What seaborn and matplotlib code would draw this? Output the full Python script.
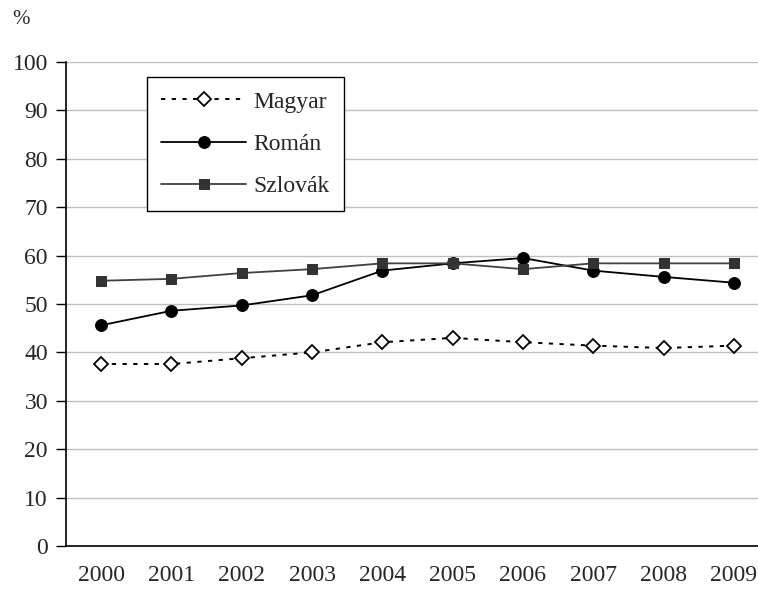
import numpy as np
import pandas as pd
import matplotlib
matplotlib.use("Agg")
import matplotlib.pyplot as plt
import seaborn as sns

years = ["2000", "2001", "2002", "2003", "2004", "2005", "2006", "2007", "2008", "2009"]
magyar = [37.6, 37.6, 38.8, 40.0, 42.1, 43.0, 42.1, 41.4, 40.9, 41.4]
roman = [45.6, 48.6, 49.7, 51.8, 56.9, 58.4, 59.5, 56.9, 55.6, 54.4]
szlovak = [54.8, 55.2, 56.4, 57.2, 58.4, 58.4, 57.2, 58.4, 58.4, 58.4]

sns.set_style("white")
plt.rcParams['font.family'] = ['Liberation Serif', 'DejaVu Serif']

pos = np.arange(len(years))
df = pd.DataFrame({'pos': pos, 'Magyar': magyar, 'Román': roman, 'Szlovák': szlovak})

fig = plt.figure(figsize=(7.58, 5.91), dpi=100)
ax = fig.add_axes([66 / 758, 45 / 591, 703 / 758, 484 / 591])

for y in range(10, 101, 10):
    ax.axhline(y, color='#c0c0c0', lw=1, zorder=0)

sns.lineplot(data=df, x='pos', y='Magyar', ax=ax, color='black', lw=1.4,
             linestyle=(0, (2.2, 3.3)), marker='D', markersize=7.5,
             markerfacecolor='white', markeredgecolor='black', markeredgewidth=1.3,
             label='Magyar')
sns.lineplot(data=df, x='pos', y='Román', ax=ax, color='black', lw=1.3,
             marker='o', markersize=8.5, markerfacecolor='black',
             markeredgecolor='black', label='Román')
sns.lineplot(data=df, x='pos', y='Szlovák', ax=ax, color='#404040', lw=1.3,
             marker='s', markersize=7.5, markerfacecolor='#333333',
             markeredgecolor='#333333', label='Szlovák')

ax.set_xlim(-0.5, len(years) - 0.5)
ax.set_ylim(0, 100)
ax.set_xticks(pos)
ax.set_xticklabels(years, fontsize=17)
ax.set_xticks(np.arange(-0.5, len(years), 1), minor=True)
ax.tick_params(axis='x', which='major', length=0, pad=14)
ax.tick_params(axis='x', which='minor', length=7, width=1, color='black', direction='out')
ax.set_yticks(range(0, 101, 10))
ax.tick_params(axis='y', length=7, width=1, color='black', direction='out', labelsize=17, pad=6)
ax.tick_params(axis='both', bottom=True, left=True)
ax.set_xlabel('')
ax.set_ylabel('')

for s in ['top', 'right']:
    ax.spines[s].set_visible(False)
for s in ['left', 'bottom']:
    ax.spines[s].set_color('black')
    ax.spines[s].set_linewidth(1.2)

fig.text(12 / 758, 1 - 20 / 591, '%', fontsize=15, va='center')

leg = ax.legend(loc='upper left', bbox_to_anchor=(147 / 758, 1 - 77 / 591),
                bbox_transform=fig.transFigure, borderaxespad=0, fontsize=17,
                handlelength=3.6, labelspacing=0.87, borderpad=0.6, handletextpad=0.3,
                fancybox=False, framealpha=1, edgecolor='black')
leg.get_frame().set_linewidth(1)

fig.savefig('out.png', dpi=100)
